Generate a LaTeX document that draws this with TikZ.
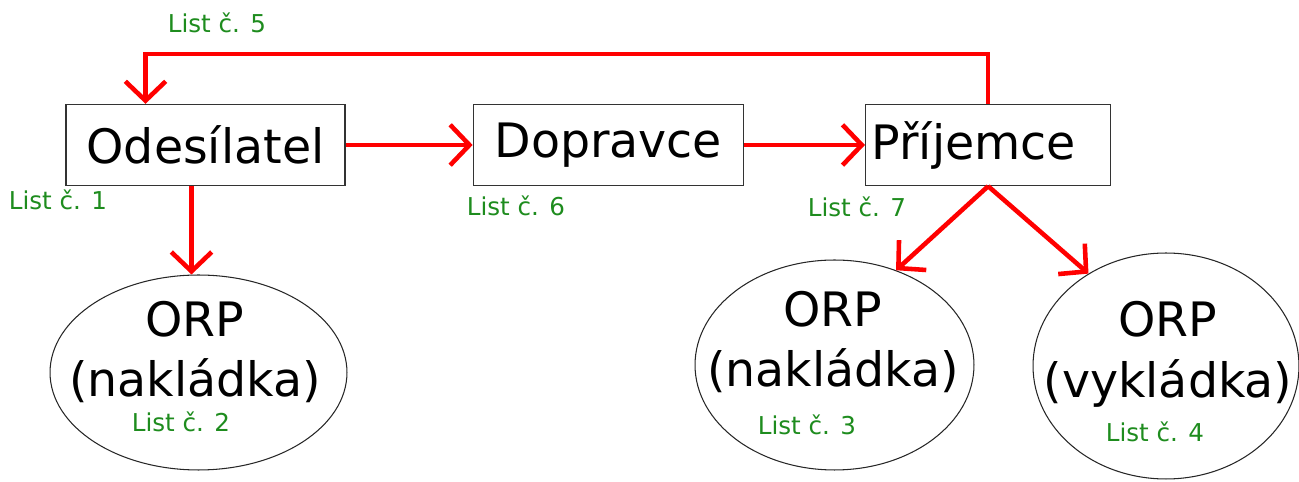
\documentclass[tikz,border=0pt]{standalone}
\usepackage{fontspec}
\setmainfont{DejaVu Sans}
\usetikzlibrary{arrows.meta,positioning,shapes.geometric}
\definecolor{listgreen}{RGB}{30,140,30}

\begin{document}
\begin{tikzpicture}[x=0.02cm,y=-0.02cm,>={Straight Barb[length=11pt,width=23pt]},
  flow/.style={->,draw=red,line width=2.6pt},
  party/.style={rectangle,draw=black!80,line width=0.8pt,minimum height=1.62cm,inner sep=0pt,font=\fontsize{27}{33}\selectfont},
  office/.style={ellipse,draw=black!85,line width=0.6pt,inner sep=0pt},
  orptext/.style={align=center,font=\fontsize{27}{34.6}\selectfont},
  sheet/.style={text=listgreen,font=\fontsize{14}{16}\selectfont}]
%\tikzstyle{every node}=[font=\sffamily]

  \useasboundingbox (0,0) rectangle (1299,482);

  \node[party,minimum width=5.58cm] (odes) at (205.5,145) {Odesílatel};
  \node[party,minimum width=5.4cm]  (dopr) [right=2.54cm of odes] {Dopravce};
  \node[party,minimum width=4.9cm,text width=4.66cm,align=left] (prij) [right=2.42cm of dopr] {Příjemce};

  \node[office,minimum width=5.94cm,minimum height=3.9cm]  (orpA) at (198.5,372.5) {};
  \node[office,minimum width=5.58cm,minimum height=4.2cm]  (orpB) at (834.5,365) {};
  \node[office,minimum width=5.32cm,minimum height=4.52cm] (orpC) at (1166,366) {};

  \node[orptext] (orpAtxt) at (195,352)  {ORP\\(nakládka)};
  \node[orptext] (orpBtxt) at (833,342)  {ORP\\(nakládka)};
  \node[orptext] (orpCtxt) at (1168,354) {ORP\\(vykládka)};

  \node[sheet] (list5) at (217,23)   {List č. 5};
  \node[sheet] (list1) at (58,200)   {List č. 1};
  \node[sheet] (list6) at (516,206)  {List č. 6};
  \node[sheet] (list7) at (857,207)  {List č. 7};
  \node[sheet] (list2) at (181,422)  {List č. 2};
  \node[sheet] (list3) at (807,425)  {List č. 3};
  \node[sheet] (list4) at (1155,432) {List č. 4};

  \draw[flow] (odes) -- (dopr);
  \draw[flow] (dopr) -- (prij);
  \draw[flow] ([xshift=-0.28cm]odes.south) -- ([xshift=-0.28cm]odes.south |- orpA.north);
  \draw[flow] (prij.south) -- (orpB.57);
  \draw[flow] (prij.south) -- (orpC.130);
  \draw[flow] (prij.north) -- ++(0,-50) -| ([xshift=-1.2cm]odes.north);
\end{tikzpicture}
\end{document}
